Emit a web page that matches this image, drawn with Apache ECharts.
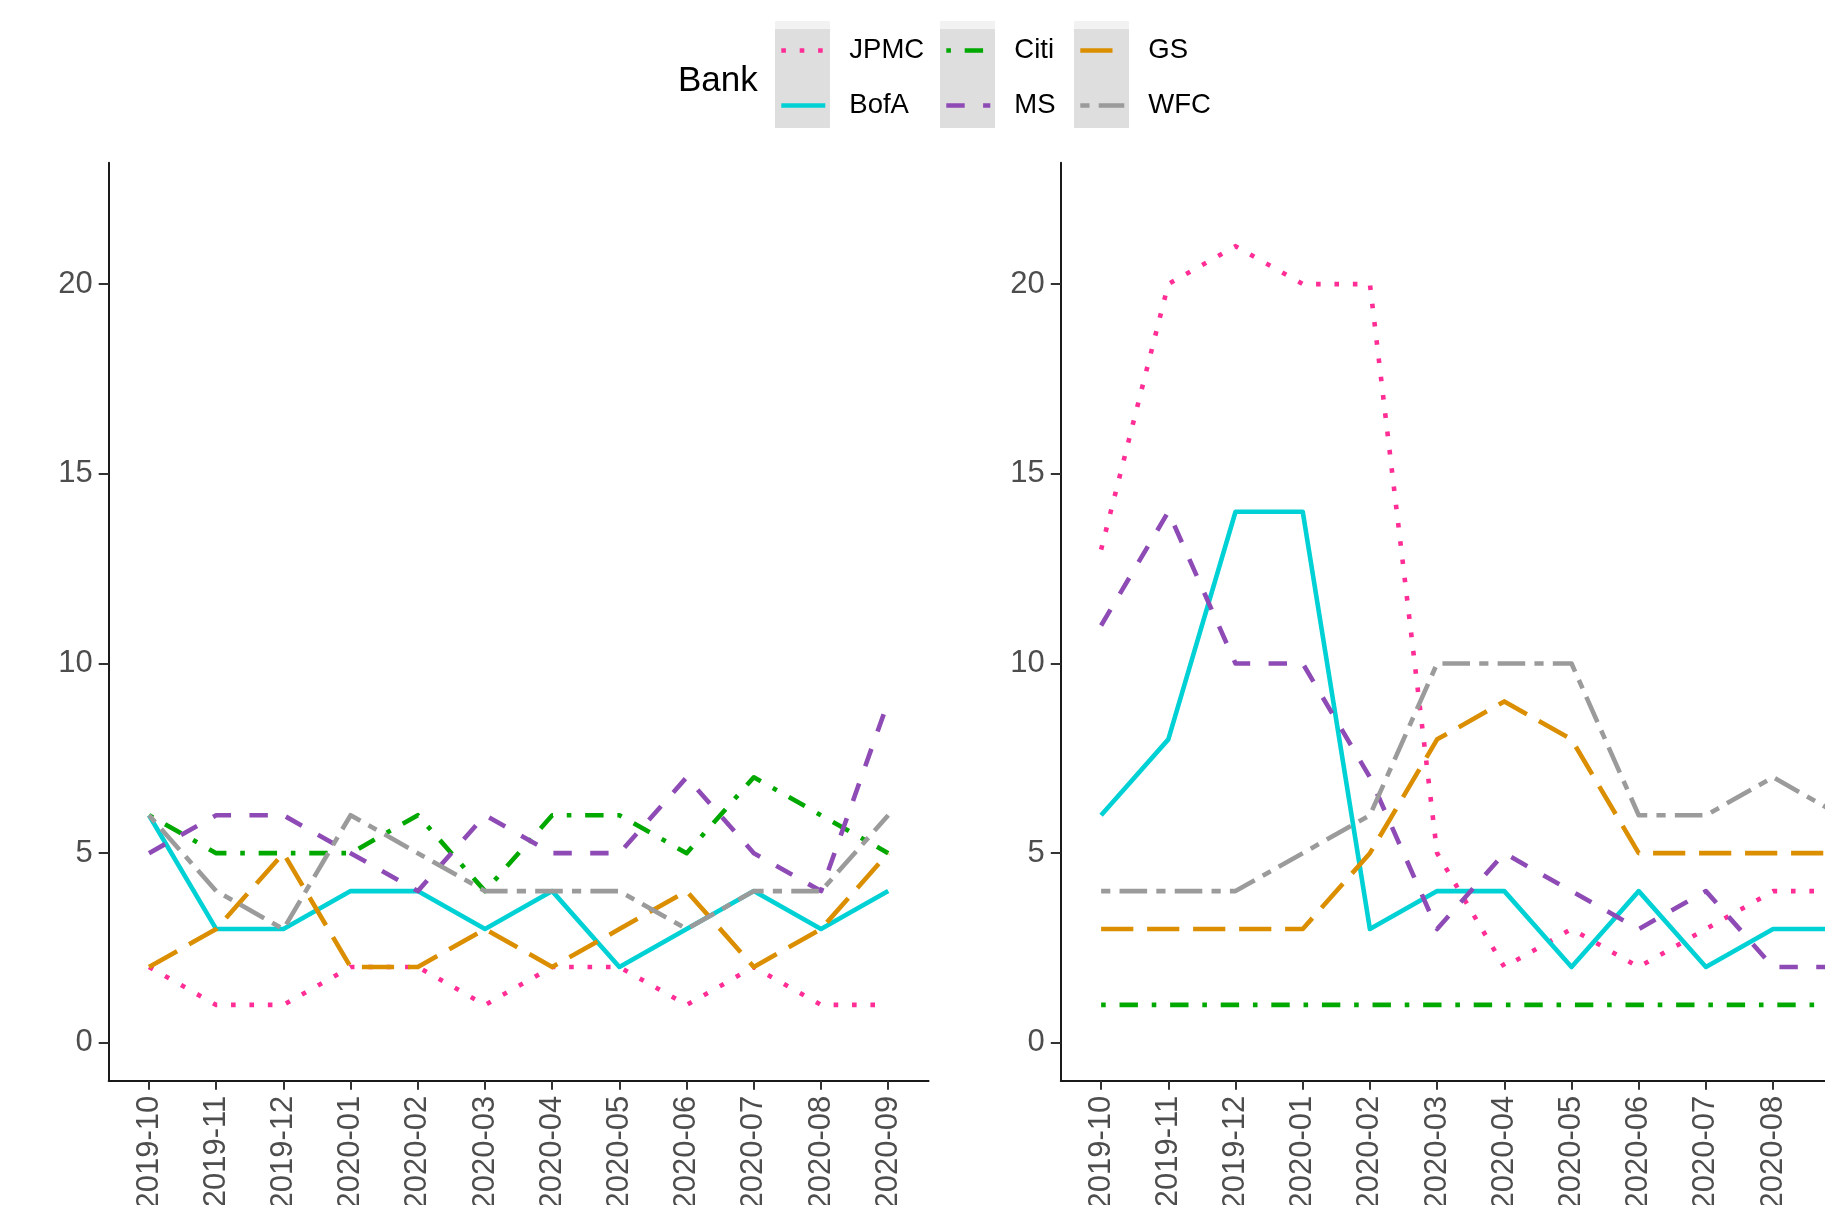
<!DOCTYPE html>
<html>
<head>
<meta charset="utf-8">
<title>Bank series</title>
<script src="https://cdn.jsdelivr.net/npm/echarts@6/dist/echarts.min.js"></script>
<style>
  html, body { margin: 0; padding: 0; background: #ffffff; }
  #chart { width: 1825px; height: 1205px; }
</style>
</head>
<body>
<div id="chart"></div>
<script>
// Months on the x axis
const months = ['2019-10', '2019-11', '2019-12', '2020-01', '2020-02', '2020-03',
                '2020-04', '2020-05', '2020-06', '2020-07', '2020-08', '2020-09'];
const yTicks = [0, 5, 10, 15, 20];
const banks = ['JPMC', 'BofA', 'Citi', 'MS', 'GS', 'WFC'];

// Left panel values
const leftJPMC = [2, 1, 1, 2, 2, 1, 2, 2, 1, 2, 1, 1];
const leftBofA = [6, 3, 3, 4, 4, 3, 4, 2, 3, 4, 3, 4];
const leftCiti = [6, 5, 5, 5, 6, 4, 6, 6, 5, 7, 6, 5];
const leftMS   = [5, 6, 6, 5, 4, 6, 5, 5, 7, 5, 4, 9];
const leftGS   = [2, 3, 5, 2, 2, 3, 2, 3, 4, 2, 3, 5];
const leftWFC  = [6, 4, 3, 6, 5, 4, 4, 4, 3, 4, 4, 6];

// Right panel values
const rightJPMC = [13, 20, 21, 20, 20, 5, 2, 3, 2, 3, 4, 4];
const rightBofA = [6, 8, 14, 14, 3, 4, 4, 2, 4, 2, 3, 3];
const rightCiti = [1, 1, 1, 1, 1, 1, 1, 1, 1, 1, 1, 1];
const rightMS   = [11, 14, 10, 10, 7, 3, 5, 4, 3, 4, 2, 2];
const rightGS   = [3, 3, 3, 3, 5, 8, 9, 8, 5, 5, 5, 5];
const rightWFC  = [4, 4, 4, 5, 6, 10, 10, 10, 6, 6, 7, 6];

const leftValues  = [leftJPMC, leftBofA, leftCiti, leftMS, leftGS, leftWFC];
const rightValues = [rightJPMC, rightBofA, rightCiti, rightMS, rightGS, rightWFC];

// Styling per bank (ggplot-like linetypes, scaled by line width)
const LW = 4.6;
const colors = {
  JPMC: '#FF2D95', BofA: '#00D1D5', Citi: '#00A800',
  MS: '#8E4BB5', GS: '#DA8E00', WFC: '#9B9B9B'
};
const dashes = {
  JPMC: [1 * LW, 3 * LW],                   // dotted
  BofA: 'solid',                            // solid
  Citi: [1 * LW, 3 * LW, 4 * LW, 3 * LW],   // dotdash
  MS:   [4 * LW, 4 * LW],                   // dashed
  GS:   [7 * LW, 3 * LW],                   // longdash
  WFC:  [2 * LW, 2 * LW, 6 * LW, 2 * LW]    // twodash
};

const FONT = 'Liberation Sans, Arial, Helvetica, sans-serif';
const TICK_FONT = 31;
const unit = 67.2;            // pixels per month step
const gridTop = 162.7, gridHeight = 918.1;
const gridWidth = 12.2 * unit;

function makeX(gridIndex) {
  return {
    type: 'value', gridIndex: gridIndex, min: -0.6, max: 11.6,
    splitLine: { show: false },
    axisLine: { show: true, onZero: false, lineStyle: { color: '#1a1a1a', width: 2 } },
    axisTick: { show: true, length: 9, customValues: months.map((m, i) => i),
                lineStyle: { color: '#333333', width: 2 } },
    axisLabel: {
      show: true, rotate: 90, margin: 15, fontSize: TICK_FONT, color: '#4D4D4D',
      fontFamily: FONT, customValues: months.map((m, i) => i),
      formatter: v => months[Math.round(v)] || ''
    }
  };
}
function makeY(gridIndex) {
  return {
    type: 'value', gridIndex: gridIndex, min: -1, max: 23.2,
    splitLine: { show: false },
    axisLine: { show: true, onZero: false, lineStyle: { color: '#1a1a1a', width: 2 } },
    axisTick: { show: true, length: 10, customValues: yTicks,
                lineStyle: { color: '#333333', width: 2 } },
    axisLabel: {
      show: true, margin: 16, fontSize: TICK_FONT, color: '#4D4D4D',
      fontFamily: FONT, customValues: yTicks
    }
  };
}

const series = [];
[leftValues, rightValues].forEach((panel, p) => {
  banks.forEach((b, k) => {
    series.push({
      name: b, type: 'line', xAxisIndex: p, yAxisIndex: p,
      data: panel[k].map((v, i) => [i, v]),
      symbol: 'none', showSymbol: false, silent: true, animation: false,
      z: 2 + k,
      lineStyle: { color: colors[b], width: LW, type: dashes[b], cap: 'butt', join: 'round' },
      itemStyle: { color: colors[b] }
    });
  });
});

// Legend: three columns of two keys each, on grey key backgrounds
const keyCols = [775, 940, 1074];
const keyRowsY = [47, 102];
const legends = [];
banks.forEach((b, k) => {
  const col = Math.floor(k / 2), row = k % 2;
  legends.push({
    data: [b], left: keyCols[col] + 4, top: keyRowsY[row] - 15,
    padding: 0, itemWidth: 44, itemHeight: 14, selectedMode: false, z: 10,
    itemStyle: { opacity: 0 },
    lineStyle: { width: LW, color: colors[b], type: dashes[b], cap: 'butt' },
    textStyle: { fontSize: 27.5, color: '#000000', fontFamily: FONT,
                 lineHeight: 30, padding: [7, 0, 0, 19] }
  });
});

const graphics = [];
keyCols.forEach(x => {
  graphics.push({ type: 'rect', left: x, top: 21, z: 0,
    shape: { width: 55, height: 107 }, style: { fill: '#DEDEDE' } });
  graphics.push({ type: 'rect', left: x, top: 21, z: 0,
    shape: { width: 55, height: 8 }, style: { fill: '#F2F2F2' } });
});
graphics.push({ type: 'text', left: 678, top: 64, z: 10,
  style: { text: 'Bank', fontSize: 35, fill: '#000000', fontFamily: FONT } });

const chart = echarts.init(document.getElementById('chart'), null, { renderer: 'canvas' });
chart.setOption({
  backgroundColor: '#ffffff',
  animation: false,
  grid: [
    { left: 108.7, top: gridTop, width: gridWidth, height: gridHeight, outerBoundsMode: 'none' },
    { left: 1060.8, top: gridTop, width: gridWidth, height: gridHeight, outerBoundsMode: 'none' }
  ],
  xAxis: [makeX(0), makeX(1)],
  yAxis: [makeY(0), makeY(1)],
  legend: legends,
  graphic: graphics,
  series: series
});
</script>
</body>
</html>
